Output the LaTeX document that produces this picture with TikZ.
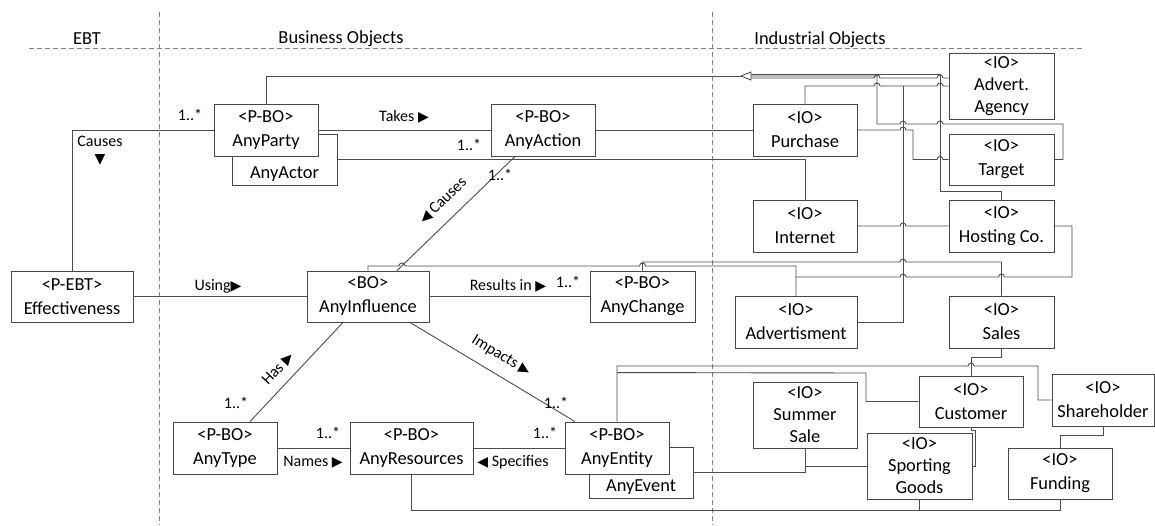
\documentclass[tikz,border=0pt]{standalone}
\usepackage{fontspec}
\setmainfont{Carlito}
\newfontfamily\symfont{DejaVu Sans}
\usetikzlibrary{calc}
\newcommand\bxfont{\fontsize{18.4}{24}\selectfont}
\newcommand\bxfontiii{\fontsize{18.4}{22}\selectfont}
\newcommand\lblfont{\fontsize{16}{19}\selectfont}
\newcommand\tri[1]{{\symfont\fontsize{14}{16}\selectfont #1}}
\begin{document}
\begin{tikzpicture}[x=1pt,y=-1pt,
  box/.style={draw=black!72, fill=white, line width=0.9pt, inner sep=0pt,
    minimum width=104pt, minimum height=52pt, align=center, font=\bxfont},
  box3/.style={box, minimum height=66pt, font=\bxfontiii},
  conn/.style={draw=black!70, line width=0.9pt},
  lbl/.style={font=\lblfont, inner sep=1pt},
  sepline/.style={draw=black!50, line width=0.9pt, dash pattern=on 5pt off 3pt},
  head/.style={font=\bxfont, inner sep=1pt}]
\useasboundingbox (0,0) rectangle (1155,525);
\fill[white] (0,0) rectangle (1155,525);

% separators
\draw[sepline] (29,48) -- (1082,48);
\draw[sepline] (159,12) -- (159,525);
\draw[sepline] (712,12) -- (712,525);
\node[head] (hebt) at (87,39) {EBT};
\node[head] (hbo) at (341,39) {Business Objects};
\node[head] (hio) at (820,40) {Industrial Objects};

% boxes
\node[box, minimum width=105pt, minimum height=51pt] (actor) at (284.5,159.5) {\strut\\AnyActor};
\node[box] (party) at (266,130) {<P-BO>\\AnyParty};
\node[box] (action) at (543,130) {<P-BO>\\AnyAction};
\node[box] (purchase) at (805,130) {<IO>\\Purchase};
\node[box3, minimum width=105pt] (advert) at (1001.5,86) {<IO>\\Advert.\\Agency};
\node[box, minimum width=105pt, minimum height=51pt] (target) at (1001.5,159.5) {<IO>\\Target};
\node[box] (internet) at (805,226) {<IO>\\Internet};
\node[box, minimum width=105pt] (hosting) at (1001.5,226) {<IO>\\Hosting Co.};
\node[box, minimum width=122pt, minimum height=51pt] (eff) at (72,296.5) {<P-EBT>\\Effectiveness};
\node[box, minimum width=122pt, minimum height=51pt] (influence) at (368,296.5) {<BO>\\AnyInfluence};
\node[box, minimum width=105pt, minimum height=51pt] (change) at (642.5,296.5) {<P-BO>\\AnyChange};
\node[box, minimum width=122pt] (advm) at (796,322) {<IO>\\Advertisment};
\node[box, minimum width=105pt] (sales) at (1001.5,322) {<IO>\\Sales};
\node[box] (type) at (225,448) {<P-BO>\\AnyType};
\node[box, minimum width=123pt] (resources) at (411.5,448) {<P-BO>\\AnyResources};
\node[box, minimum width=104pt, minimum height=51pt] (event) at (641,472.5) {\strut\\AnyEvent};
\node[box] (entity) at (617,448) {<P-BO>\\AnyEntity};
\node[box3] (summer) at (805,415) {<IO>\\Summer\\Sale};
\node[box, minimum height=51pt] (customer) at (971,401.5) {<IO>\\Customer};
\node[box, minimum width=102pt] (shareholder) at (1103,400) {<IO>\\Shareholder};
\node[box3, minimum width=105pt] (sporting) at (919.5,466) {<IO>\\Sporting\\Goods};
\node[box, minimum height=51pt] (funding) at (1060,473.5) {<IO>\\Funding};

% business connectors
\draw[conn] (eff.north) |- (party.west);
\draw[conn] (party.east) -- (action.west);
\draw[conn] (actor.east) -| (internet.north);
\draw[conn] (action.east) -- (purchase.west);
\draw[conn] (eff.east) -- (influence.west);
\draw[conn] (influence.east) -- (change.west);
\draw[conn] ([xshift=29pt]influence.north) -- ([xshift=-28pt]action.south);
\draw[conn] ([xshift=-25pt]influence.south) -- ([xshift=25pt]type.north);
\draw[conn] ([xshift=42pt]influence.south) -- ([xshift=-42pt]entity.north);
\draw[conn] (type.east) -- (resources.west);
\draw[conn] (entity.west) -- (resources.east);

% generalisation bundle
\coordinate (gtip) at (741,76);
\coordinate (gbase) at (751,76);
\draw[conn] (party.north) |- (gtip);
\draw[conn] ([yshift=2pt]gbase) -| (940,191) -| (hosting.north);
\draw[conn] (gbase) -- (877,76) -- (877,124) -- (900,124) arc[start angle=180,end angle=0,radius=3pt]
  -- (937,124) arc[start angle=180,end angle=0,radius=3pt] -- (1063,124) |- (target.east);
\draw[conn] ([yshift=-2pt]gbase) -- (874,78) arc[start angle=180,end angle=0,radius=3pt]
  -- (937,78) arc[start angle=180,end angle=0,radius=3pt] -- ([yshift=8pt]advert.west);
\draw[conn, fill=white] (gtip) -- ++(10,-4) -- ++(0,8) -- cycle;
\draw[conn] (purchase.north) |- (874,86) arc[start angle=180,end angle=0,radius=3pt]
  -- (937,86) arc[start angle=180,end angle=0,radius=3pt] -- (advert.west);
\draw[conn] (advm.east) -| (903,86);
\draw[conn] (purchase.east) -- (900,130) arc[start angle=180,end angle=0,radius=3pt] -- (913,130)
  -- (913,159.5) -- (937,159.5) arc[start angle=180,end angle=0,radius=3pt] -- (target.west);
\draw[conn] (internet.east) -- (900,226) arc[start angle=180,end angle=0,radius=3pt] -- (hosting.west);
\draw[conn] (hosting.east) -- (1072,226) -- (1072,277) -- (1004.5,277) arc[start angle=0,end angle=180,radius=3pt]
  -- (906,277) arc[start angle=0,end angle=180,radius=3pt] -- (796,277);
\draw[conn] (influence.north) -- (368,266) -- (399,266) arc[start angle=180,end angle=0,radius=3pt]
  -- (639.5,266) arc[start angle=180,end angle=0,radius=3pt] -- (796,266) -- (advm.north);
\draw[conn] (change.north) -- (642.5,262) -- (900,262) arc[start angle=180,end angle=0,radius=3pt]
  -- (1001.5,262) -- (sales.north);

% lower industrial connectors
\draw[conn] (entity.north) -- (617,366) -- (968,366) arc[start angle=180,end angle=0,radius=3pt]
  -- (1038,366) |- (shareholder.west);
\draw[conn] ([yshift=49pt]entity.north) -- (866,373) |- (customer.west);
\draw[conn] (sales.south) -- ++(0,9) -| (customer.north);
\draw[conn] (event.east) -| (summer.south);
\draw[conn] (sporting.west) -- ++(-62,0);
\draw[conn] (customer.south) -- ++(0,3) -- ++(4,0) |- (sporting.east);
\draw[conn] (resources.south) |- ([yshift=-11pt]funding.south) -- (funding.south);
\draw[conn] (sporting.south) -- ++(0,11);
\draw[conn] (shareholder.south) -- ++(0,9) -| (funding.north);

% labels
\node[lbl] (lcauses) at (100,141) {Causes};
\node[lbl] (lcausestri) at (100,160) {\tri{▼}};
\node[lbl] (m1) at (190,115) {1..*};
\node[lbl] (ltakes) at (404,117) {Takes \tri{▶}};
\node[lbl] (m2) at (469,145) {1..*};
\node[lbl] (m3) at (500,175) {1..*};
\node[lbl, rotate=44] (lcauses2) at (443,201) {\tri{◀} Causes};
\node[lbl] (lusing) at (218,286) {Using\tri{▶}};
\node[lbl] (lresults) at (508,286) {Results in \tri{▶}};
\node[lbl] (m4) at (568,282) {1..*};
\node[lbl, rotate=47] (lhas) at (278,369) {Has \tri{▶}};
\node[lbl] (m5) at (236,403) {1..*};
\node[lbl, rotate=-31] (limpacts) at (501,356) {Impacts \tri{▶}};
\node[lbl] (m6) at (556,403) {1..*};
\node[lbl] (m7) at (328,433) {1..*};
\node[lbl] (lnames) at (313,462) {Names \tri{▶}};
\node[lbl] (m8) at (545,433) {1..*};
\node[lbl] (lspec) at (513,462) {\tri{◀} Specifies};
\end{tikzpicture}
\end{document}
